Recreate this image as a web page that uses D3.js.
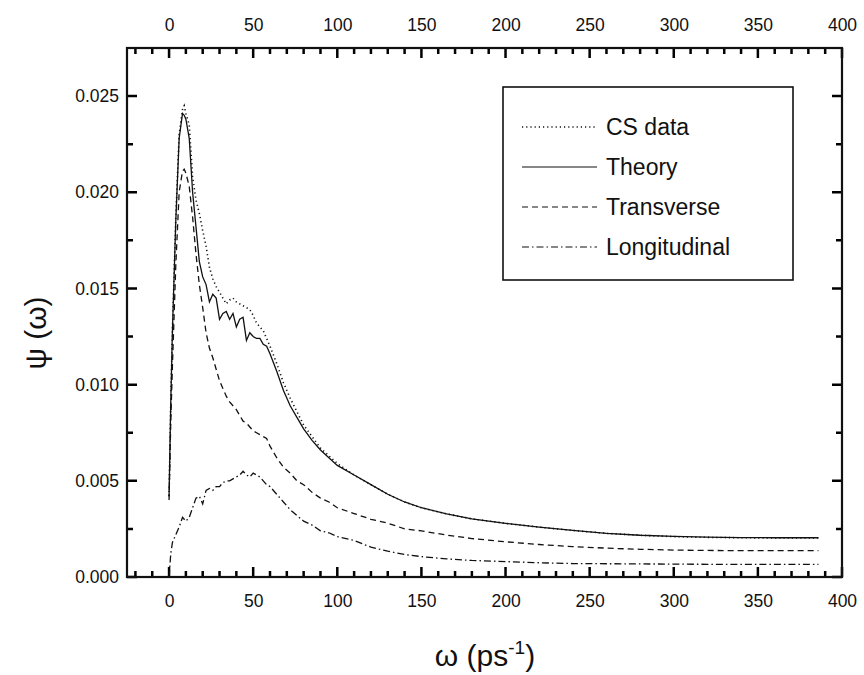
<!DOCTYPE html>
<html>
<head>
<meta charset="utf-8">
<script src="https://cdn.jsdelivr.net/npm/d3@7"></script>
<style>
  body { margin: 0; background: #fff; }
  svg { font-family: "Liberation Sans", Arial, Helvetica, sans-serif; }
  .axis text { font-size: 17.5px; fill: #111; }
</style>
</head>
<body>
<div class="chart_psi"></div>
<script>
// omega grid (ps^-1) shared by all curves
var omega = [0, 1, 2, 4, 6, 8, 9, 10, 12, 14, 16, 18, 20, 22, 24, 26, 28, 30, 32, 34, 36, 38, 40,
  42, 44, 46, 48, 50, 52, 54, 56, 58, 60, 64, 68, 72, 76, 80, 85, 90, 95, 100, 110, 120, 130,
  140, 150, 165, 180, 200, 220, 240, 260, 280, 300, 320, 340, 360, 386];

var csData = [0.0042, 0.0090, 0.0128, 0.0187, 0.0230, 0.0243, 0.0245, 0.0241, 0.0235, 0.0208,
  0.0196, 0.0189, 0.0180, 0.0172, 0.0161, 0.0155, 0.0151, 0.0148, 0.0145, 0.0142, 0.0144,
  0.0145, 0.0143, 0.0142, 0.0141, 0.0140, 0.0139, 0.0136, 0.0132, 0.0130, 0.0128, 0.0124,
  0.0120, 0.0111, 0.0101, 0.0093, 0.0086, 0.0079, 0.0073, 0.0067, 0.0063, 0.0059, 0.0053,
  0.0048, 0.0043, 0.0039, 0.0036, 0.00328, 0.00302, 0.00279, 0.00259, 0.00242, 0.00227, 0.00217,
  0.00210, 0.00206, 0.00204, 0.00203, 0.00203];

var theory = [0.0042, 0.0090, 0.0128, 0.0185, 0.0228, 0.0241, 0.0240, 0.0238, 0.0228, 0.0200,
  0.0182, 0.0164, 0.0156, 0.0152, 0.0143, 0.0147, 0.0145, 0.0134, 0.0137, 0.0138, 0.0134,
  0.0137, 0.0130, 0.0134, 0.0135, 0.0123, 0.0127, 0.0125, 0.0124, 0.0124, 0.0121, 0.0120,
  0.0116, 0.0107, 0.0097, 0.0089, 0.0083, 0.0077, 0.0071, 0.0066, 0.0062, 0.0058, 0.0053,
  0.0048, 0.0043, 0.0039, 0.0036, 0.00328, 0.00302, 0.00279, 0.00259, 0.00242, 0.00227, 0.00217,
  0.00211, 0.00207, 0.00205, 0.00204, 0.00204];

var transverse = [0.0040, 0.0080, 0.0110, 0.0162, 0.0200, 0.0211, 0.0212, 0.0210, 0.0203, 0.0187,
  0.0168, 0.0152, 0.0140, 0.0127, 0.0119, 0.0114, 0.0108, 0.0102, 0.0098, 0.0094, 0.0091,
  0.0089, 0.0087, 0.0084, 0.0081, 0.0080, 0.0078, 0.0076, 0.0075, 0.0074, 0.0073, 0.0072,
  0.0068, 0.0062, 0.0057, 0.0054, 0.0050, 0.0048, 0.0044, 0.0041, 0.0039, 0.0036, 0.0033,
  0.0030, 0.0028, 0.0025, 0.0024, 0.00218, 0.00200, 0.00183, 0.00169, 0.00158, 0.00150, 0.00144,
  0.00140, 0.00138, 0.00137, 0.00137, 0.00137];

var longitudinal = [0.0000, 0.0012, 0.0018, 0.0022, 0.0026, 0.0031, 0.0030, 0.0029, 0.0031, 0.0036,
  0.0041, 0.0042, 0.0038, 0.0045, 0.0046, 0.0045, 0.0047, 0.0047, 0.0049, 0.0050, 0.0050,
  0.0051, 0.0052, 0.0053, 0.0055, 0.0053, 0.0052, 0.0054, 0.0053, 0.0052, 0.0050, 0.0048,
  0.0047, 0.0043, 0.0039, 0.0035, 0.0032, 0.0029, 0.0027, 0.0024, 0.0023, 0.0021, 0.0019,
  0.00155, 0.00134, 0.00117, 0.00106, 0.00094, 0.00086, 0.00080, 0.00074, 0.00070, 0.00069,
  0.00068, 0.00067, 0.00066, 0.00066, 0.00066, 0.00066];

var seriesNames = ["CS data", "Theory", "Transverse", "Longitudinal"];
var seriesDash = ["1.2,3", null, "6,4", "7,3,1.5,3"];

var xMajor = d3.range(0, 401, 50);
var xMinor = d3.range(-20, 401, 10).filter(function(v){ return v % 50 !== 0; });
var yMajor = [0, 0.005, 0.010, 0.015, 0.020, 0.025];
var yMinor = [0.0025, 0.0075, 0.0125, 0.0175, 0.0225];

var W = 864, H = 675;
var box = {left: 127, right: 842, top: 48, bottom: 577};

var svg = d3.select(".chart_psi").append("svg")
  .attr("width", W).attr("height", H);

var xScale = d3.scaleLinear().domain([-25, 400]).range([box.left, box.right]);
var yScale = d3.scaleLinear().domain([0, 0.0275]).range([box.bottom, box.top]);

// inward tick marks on all four sides
var tp = d3.path();
function xTicks(vals, len){
  vals.forEach(function(d){
    var px = xScale(d);
    tp.moveTo(px, box.bottom); tp.lineTo(px, box.bottom - len);
    tp.moveTo(px, box.top); tp.lineTo(px, box.top + len);
  });
}
function yTicks(vals, len){
  vals.forEach(function(d){
    var py = yScale(d);
    tp.moveTo(box.left, py); tp.lineTo(box.left + len, py);
    tp.moveTo(box.right, py); tp.lineTo(box.right - len, py);
  });
}
xTicks(xMajor, 10); xTicks(xMinor, 6);
yTicks(yMajor, 10); yTicks(yMinor, 6);

svg.append("path")
  .attr("d", tp.toString())
  .attr("fill", "none").attr("stroke", "#000").attr("stroke-width", 2.5);

svg.append("rect")
  .attr("x", box.left).attr("y", box.top)
  .attr("width", box.right - box.left).attr("height", box.bottom - box.top)
  .attr("fill", "none").attr("stroke", "#111").attr("stroke-width", 2.2);

// tick labels from d3 axes
function labelAxis(gen, tf, vals, pad, fmt){
  var g = svg.append("g").attr("class", "axis").attr("transform", tf)
    .call(gen.tickValues(vals).tickSize(0).tickPadding(pad).tickFormat(fmt));
  g.select(".domain").remove();
  return g;
}
labelAxis(d3.axisBottom(xScale), "translate(0," + box.bottom + ")", xMajor, 18, d3.format("d"));
labelAxis(d3.axisTop(xScale), "translate(0," + box.top + ")", xMajor, 17, d3.format("d"));
labelAxis(d3.axisLeft(yScale), "translate(" + box.left + ",0)", yMajor, 8, d3.format(".3f"));

// curves
var allSeries = [csData, theory, transverse, longitudinal];
var line = d3.line()
  .x(function(d, i){ return xScale(omega[i]); })
  .y(function(d){ return yScale(d); });

allSeries.forEach(function(vals, k){
  svg.append("path")
    .datum(vals)
    .attr("fill", "none")
    .attr("stroke", "#111")
    .attr("stroke-width", k === 0 ? 1.6 : 1.3)
    .attr("stroke-dasharray", seriesDash[k])
    .attr("d", line);
});

// legend
var lg = svg.append("g");
lg.append("rect")
  .attr("x", 503).attr("y", 87).attr("width", 290).attr("height", 193)
  .attr("fill", "#fff").attr("stroke", "#111").attr("stroke-width", 1.6);
seriesNames.forEach(function(name, k){
  var cy = 127 + k * 40;
  lg.append("line")
    .attr("x1", 522).attr("x2", 597).attr("y1", cy).attr("y2", cy)
    .attr("stroke", "#111").attr("stroke-width", k === 0 ? 1.4 : 1.2)
    .attr("stroke-dasharray", seriesDash[k]);
  lg.append("text")
    .attr("x", 606).attr("y", cy + 8)
    .attr("font-size", 23).attr("fill", "#111")
    .text(name);
});

// axis titles
var xt = svg.append("text")
  .attr("x", 485).attr("y", 666)
  .attr("text-anchor", "middle").attr("font-size", 30).attr("fill", "#111");
xt.append("tspan").text("\u03c9 (ps");
xt.append("tspan").attr("font-size", 19).attr("dy", -12).text("-1");
xt.append("tspan").attr("dy", 12).text(")");

svg.append("text")
  .attr("transform", "translate(46,333) rotate(-90)")
  .attr("text-anchor", "middle").attr("font-size", 30).attr("fill", "#111")
  .text("\u03c8 (\u03c9)");
</script>
</body>
</html>
